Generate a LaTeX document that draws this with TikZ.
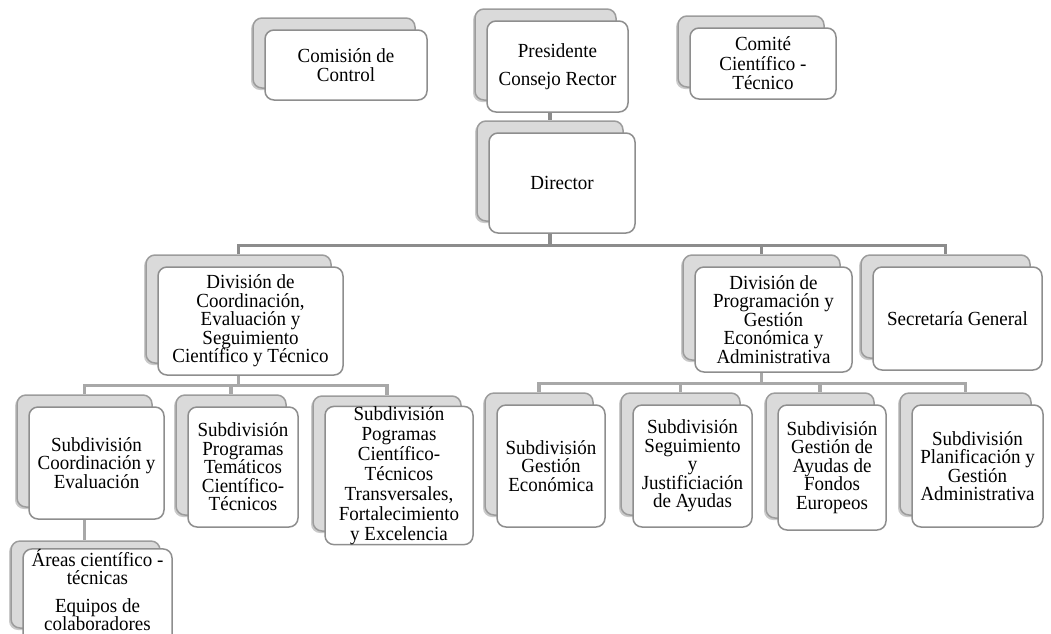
\documentclass[tikz,border=0pt]{standalone}
\usepackage{fontspec}
\setmainfont{Liberation Serif}[FakeStretch=0.95]
\usetikzlibrary{shadows}
\pgfdeclarelayer{bg}
\pgfsetlayers{bg,main}
\definecolor{backfill}{HTML}{DADADA}
\definecolor{backline}{HTML}{9C9C9C}
\definecolor{frontline}{HTML}{8E8E8E}
\definecolor{connA}{HTML}{8C8C8C}
\definecolor{connB}{HTML}{A8A8A8}
\tikzset{
 backbox/.style={draw=backline, fill=backfill, line width=1.5pt, rounded corners=9pt, inner sep=0pt,
   drop shadow={shadow xshift=-2pt, shadow yshift=-2pt, opacity=0.35, fill=black!60}},
 frontbox/.style={draw=frontline, fill=white, line width=1.5pt, rounded corners=9pt, inner sep=0pt,
   align=center, font=\fontsize{20}{18.5}\selectfont},
 conn/.style={draw=connA, line width=3.4pt},
 connl/.style={draw=connB, line width=3.4pt},
}
% #1 extra front style, #2 name, #3 cx, #4 cy, #5 w, #6 h, #7 text
\newcommand\obox[7][]{%
 \node[backbox, minimum width=#5pt, minimum height=#6pt] (#2b) at (#3-12,#4-12) {};
 \node[frontbox, minimum width=#5pt, minimum height=#6pt, #1] (#2) at (#3,#4) {#7};}
\begin{document}
\begin{tikzpicture}[x=1pt,y=-1pt]
\useasboundingbox (0,0) rectangle (1051,633);
\clip (0,0) rectangle (1051,633);
% top row
\obox{com}{346}{65}{162}{70}{Comisión de\\Control}
\obox{pres}{557.5}{66.5}{141}{91}{Presidente\\[10pt]Consejo Rector}
\obox[font=\fontsize{20}{19.5}\selectfont]{comite}{763}{63.5}{146}{71}{Comité\\Científico -\\Técnico}
\obox{dir}{562}{183}{146}{100}{Director}
% divisions
\obox{divc}{250.5}{321}{185}{108}{División de\\Coordinación,\\Evaluación y\\Seguimiento\\Científico y Técnico}
\obox{divp}{773.5}{319.5}{157}{105}{División de\\Programación y\\Gestión\\Económica y\\Administrativa}
\obox{sec}{957.5}{318.5}{169}{103}{Secretaría General}
% subdivisions left
\obox{sce}{96.5}{463}{135}{112}{Subdivisión\\Coordinación y\\Evaluación}
\obox{spt}{243}{467}{110}{120}{Subdivisión\\Programas\\Temáticos\\Científico-\\Técnicos}
\obox[font=\fontsize{20}{20}\selectfont]{str}{399}{475.5}{148}{135}{Subdivisión\\Pogramas\\Científico-\\Técnicos\\Transversales,\\Fortalecimiento\\y Excelencia}
\obox{areas}{97.5}{596.5}{149}{87}{Áreas científico -\\técnicas\\[9pt]Equipos de\\colaboradores\\[-5pt]\mbox{}}
% subdivisions right
\obox{sge}{551}{466}{108}{122}{Subdivisión\\Gestión\\Económica}
\obox{ssj}{692.5}{466}{119}{122}{Subdivisión\\Seguimiento\\y\\Justificiación\\de Ayudas}
\obox{sfe}{832}{467.5}{108}{125}{Subdivisión\\Gestión de\\Ayudas de\\Fondos\\Europeos}
\obox{spg}{977.5}{466}{131}{122}{Subdivisión\\Planificación y\\Gestión\\Administrativa}
\begin{pgfonlayer}{bg}
\draw[conn] (dirb.north |- pres.south) -- (dirb.north);
\foreach \c in {divc,divp,sec}
  \draw[conn] (dirb.south |- dir.south) -- ++(0,12) -| (\c b.north);
\foreach \c in {sce,spt,str}
  \draw[connl] (divcb.south |- divc.south) -- ++(0,10) -| (\c b.north);
\foreach \c in {sge,ssj,sfe,spg}
  \draw[connl] (divpb.south |- divp.south) -- ++(0,11) -| (\c b.north);
\draw[connl] (sceb.south |- sce.south) -- (sceb.south |- areasb.north);
\end{pgfonlayer}
\end{tikzpicture}
\end{document}
